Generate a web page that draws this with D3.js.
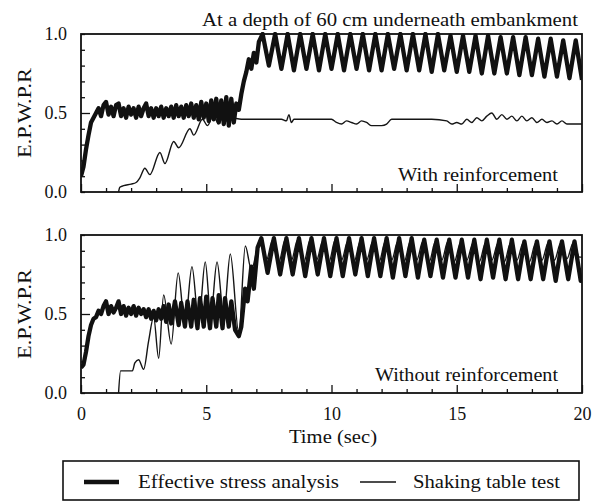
<!DOCTYPE html>
<html>
<head>
<meta charset="utf-8">
<script src="https://cdn.jsdelivr.net/npm/d3@7"></script>
<style>
  body { margin: 0; background: #fff; }
  svg text { font-family: "Liberation Serif", "DejaVu Serif", serif; fill: #111; }
</style>
</head>
<body>
<svg id="chart" width="600" height="504"></svg>
<script>
// Excess pore water pressure ratio: [time (s), ratio]

// with reinforcement - effective stress analysis
const withAnalysis = [
  [0,0.10],[0.1,0.16],[0.2,0.27],[0.3,0.36],[0.4,0.44],[0.5,0.47],
  [0.6,0.50],[0.7,0.53],[0.8,0.48],[0.9,0.55],[1.0,0.57],[1.1,0.49],[1.2,0.54],[1.3,0.48],
  [1.4,0.55],[1.5,0.56],[1.6,0.48],[1.7,0.53],[1.8,0.47],[1.9,0.54],[2.0,0.49],[2.1,0.53],
  [2.2,0.47],[2.3,0.54],[2.4,0.48],[2.5,0.53],[2.6,0.56],[2.7,0.48],[2.8,0.53],[2.9,0.47],
  [3.0,0.53],[3.1,0.48],[3.2,0.54],[3.3,0.47],[3.4,0.53],[3.5,0.48],[3.6,0.54],[3.7,0.47],
  [3.8,0.55],[3.9,0.48],[4.0,0.54],[4.1,0.47],[4.2,0.55],[4.3,0.48],[4.4,0.56],[4.5,0.47],
  [4.6,0.55],[4.7,0.46],[4.8,0.57],[4.9,0.47],[5.0,0.56],[5.1,0.45],[5.2,0.58],[5.3,0.46],
  [5.4,0.59],[5.5,0.44],[5.6,0.58],[5.7,0.43],[5.8,0.60],[5.9,0.42],[6.0,0.59],[6.1,0.44],
  [6.2,0.56],[6.3,0.52],[6.4,0.62],[6.5,0.70],[6.6,0.76],[6.7,0.84],[6.8,0.78],[6.9,0.88],
  [7.0,0.82],[7.1,0.95],[7.25,1.0],[7.5,0.80],[7.75,1.0],[8.0,0.78],[8.25,1.0],[8.5,0.77],
  [8.75,1.0],[9.0,0.78],[9.25,1.0],[9.5,0.77],[9.75,1.0],[10.0,0.78],[10.25,1.0],[10.5,0.77],
  [10.75,1.0],[11.0,0.78],[11.25,1.0],[11.5,0.77],[11.75,1.0],[12.0,0.77],[12.25,1.0],
  [12.5,0.78],[12.75,1.0],[13.0,0.77],[13.25,1.0],[13.5,0.77],[13.75,1.0],[14.0,0.76],
  [14.25,1.0],[14.5,0.77],[14.75,0.99],[15.0,0.76],[15.25,0.99],[15.5,0.76],[15.75,0.99],
  [16.0,0.75],[16.25,0.99],[16.5,0.75],[16.75,0.98],[17.0,0.75],[17.25,0.98],[17.5,0.74],
  [17.75,0.98],[18.0,0.74],[18.25,0.97],[18.5,0.73],[18.75,0.97],[19.0,0.73],[19.25,0.96],
  [19.5,0.72],[19.75,0.96],[20.0,0.71]
];

// with reinforcement - shaking table test
const withTest = [
  [1.5,0],[1.55,0.03],[1.7,0.04],[2.0,0.05],[2.2,0.06],[2.35,0.09],[2.55,0.15],[2.75,0.11],
  [3.15,0.25],[3.35,0.18],[3.7,0.32],[3.9,0.28],[4.35,0.40],[4.5,0.36],[4.85,0.46],
  [5.05,0.42],[5.3,0.49],[5.45,0.44],[5.6,0.47],[5.8,0.45],[6.0,0.47],[6.4,0.46],[7.0,0.46],
  [8.0,0.46],[8.2,0.45],[8.3,0.49],[8.4,0.44],[8.5,0.46],[10.0,0.46],[10.2,0.44],[10.4,0.43],
  [10.6,0.45],[10.8,0.44],[11.0,0.43],[11.2,0.45],[11.4,0.44],[11.6,0.42],[11.8,0.42],
  [12.0,0.42],[12.2,0.43],[12.4,0.46],[13.0,0.46],[14.0,0.46],[14.6,0.45],[14.8,0.43],
  [15.0,0.44],[15.2,0.43],[15.4,0.46],[15.6,0.44],[15.8,0.47],[16.0,0.45],[16.2,0.48],
  [16.4,0.50],[16.6,0.46],[16.8,0.49],[17.0,0.46],[17.2,0.48],[17.4,0.45],[17.6,0.48],
  [17.8,0.45],[18.0,0.47],[18.2,0.44],[18.4,0.46],[18.6,0.44],[18.8,0.45],[19.0,0.43],
  [19.2,0.45],[19.4,0.43],[19.6,0.43],[20.0,0.43]
];

// without reinforcement - effective stress analysis
const withoutAnalysis = [
  [0,0.16],[0.1,0.18],[0.2,0.26],[0.3,0.36],[0.4,0.43],[0.5,0.47],[0.6,0.48],[0.7,0.52],
  [0.8,0.50],[0.9,0.55],[1.0,0.58],[1.1,0.50],[1.2,0.55],[1.3,0.51],[1.4,0.54],[1.5,0.58],
  [1.6,0.50],[1.7,0.55],[1.8,0.49],[1.9,0.54],[2.0,0.50],[2.1,0.55],[2.2,0.49],[2.3,0.54],
  [2.4,0.50],[2.5,0.53],[2.6,0.48],[2.7,0.53],[2.8,0.47],[2.9,0.52],[3.0,0.46],[3.1,0.53],
  [3.2,0.47],[3.3,0.55],[3.4,0.45],[3.5,0.56],[3.6,0.44],[3.75,0.58],[3.9,0.43],[4.0,0.57],
  [4.15,0.42],[4.25,0.58],[4.4,0.42],[4.5,0.59],[4.65,0.41],[4.75,0.60],[4.9,0.42],
  [5.0,0.61],[5.15,0.41],[5.25,0.60],[5.4,0.42],[5.5,0.62],[5.65,0.41],[5.75,0.60],
  [5.9,0.42],[6.0,0.58],[6.15,0.40],[6.3,0.36],[6.4,0.42],[6.55,0.66],[6.65,0.58],
  [6.8,0.80],[6.9,0.66],[7.05,0.92],[7.2,0.98],[7.45,0.76],[7.7,0.98],[7.95,0.75],
  [8.2,0.98],[8.45,0.75],[8.7,0.98],[8.95,0.74],[9.2,0.98],[9.45,0.75],[9.7,0.98],
  [9.95,0.74],[10.2,0.98],[10.45,0.74],[10.7,0.98],[10.95,0.75],[11.2,0.98],[11.45,0.74],
  [11.7,0.98],[11.95,0.74],[12.2,0.98],[12.45,0.73],[12.7,0.98],[12.95,0.74],[13.2,0.98],
  [13.45,0.73],[13.7,0.97],[13.95,0.74],[14.2,0.97],[14.45,0.73],[14.7,0.97],[14.95,0.73],
  [15.2,0.97],[15.45,0.73],[15.7,0.97],[15.95,0.72],[16.2,0.97],[16.45,0.73],[16.7,0.97],
  [16.95,0.72],[17.2,0.97],[17.45,0.72],[17.7,0.96],[17.95,0.72],[18.2,0.96],[18.45,0.72],
  [18.7,0.96],[18.95,0.71],[19.2,0.96],[19.45,0.72],[19.7,0.96],[19.95,0.71],[20.0,0.74]
];

// without reinforcement - shaking table test
const withoutTest = [
  [1.5,0],[1.58,0.14],[2.05,0.14],[2.15,0.19],[2.3,0.21],[2.5,0.15],[2.7,0.33],[2.9,0.48],
  [3.1,0.22],[3.3,0.62],[3.6,0.31],[3.88,0.76],[4.15,0.43],[4.43,0.80],[4.7,0.45],
  [4.96,0.83],[5.18,0.49],[5.43,0.83],[5.7,0.49],[5.96,0.88],[6.3,0.38],[6.56,0.93],
  [6.8,0.78],[7.15,0.97],[7.4,0.84],[7.65,0.97],[7.9,0.83],[8.15,0.97],[8.4,0.84],
  [8.65,0.97],[8.9,0.83],[9.15,0.97],[9.4,0.84],[9.65,0.96],[9.9,0.83],[10.15,0.97],
  [10.4,0.84],[10.65,0.96],[10.9,0.83],[11.15,0.96],[11.4,0.84],[11.65,0.96],[11.9,0.83],
  [12.15,0.96],[12.4,0.84],[12.65,0.96],[12.9,0.83],[13.15,0.96],[13.4,0.84],[13.65,0.96],
  [13.9,0.83],[14.15,0.96],[14.4,0.84],[14.65,0.96],[14.9,0.83],[15.15,0.95],[15.4,0.84],
  [15.65,0.95],[15.9,0.83],[16.15,0.95],[16.4,0.84],[16.65,0.95],[16.9,0.83],[17.15,0.95],
  [17.4,0.84],[17.65,0.95],[17.9,0.83],[18.15,0.95],[18.4,0.84],[18.65,0.95],[18.9,0.84],
  [19.15,0.95],[19.4,0.85],[19.65,0.95],[19.9,0.86],[20.0,0.86]
];

const xTickLabels = [0, 5, 10, 15, 20];
const yTickLabels = [0, 0.5, 1.0];

const serif = '"Liberation Serif", "DejaVu Serif", serif';

const svg = d3.select('#chart');

const x = d3.scaleLinear().domain([0, 20]).range([81, 582]);

const panels = [
  {top: 34, bottom: 192, analysis: withAnalysis, test: withTest,
   note: 'With reinforcement', noteX: 558, noteY: 181, noteLen: 160, showX: false},
  {top: 235, bottom: 393, analysis: withoutAnalysis, test: withoutTest,
   note: 'Without reinforcement', noteX: 558, noteY: 381, noteLen: 183, showX: true}
];

panels.forEach((p, i) => {
  const y = d3.scaleLinear().domain([0, 1]).range([p.bottom, p.top]);

  const clipId = 'clip' + i;
  svg.append('clipPath').attr('id', clipId)
    .append('rect')
    .attr('x', x(0)).attr('y', y(1) - 2)
    .attr('width', x(20) - x(0)).attr('height', y(0) - y(1) + 2);

  const thickLine = d3.line()
    .x(d => x(d[0]))
    .y(d => y(d[1]));

  const thinLine = d3.line()
    .curve(d3.curveMonotoneX)
    .x(d => x(d[0]))
    .y(d => y(d[1]));

  const g = svg.append('g').attr('clip-path', `url(#${clipId})`);

  g.append('path')
    .datum(p.test)
    .attr('d', thinLine)
    .attr('fill', 'none')
    .attr('stroke', '#151515')
    .attr('stroke-width', 1.4)
    .attr('stroke-linejoin', 'round');

  g.append('path')
    .datum(p.analysis)
    .attr('d', thickLine)
    .attr('fill', 'none')
    .attr('stroke', '#111')
    .attr('stroke-width', 4.3)
    .attr('stroke-linejoin', 'round');

  // x axis, ticks pointing inward
  const xAxis = svg.append('g')
    .attr('transform', `translate(0,${p.bottom})`)
    .call(d3.axisBottom(x)
      .tickValues(d3.range(0, 21, 1))
      .tickSize(-4)
      .tickPadding(14)
      .tickFormat(d => (p.showX && xTickLabels.includes(d)) ? d : ''))
    .attr('font-family', serif)
    .attr('font-size', 18);
  xAxis.select('.domain').remove();
  xAxis.selectAll('.tick line')
    .attr('stroke', '#111').attr('stroke-width', 1.3)
    .filter(d => d % 5 === 0).attr('y2', -8);

  // y axis, ticks pointing inward
  const yAxis = svg.append('g')
    .attr('transform', `translate(${x(0)},0)`)
    .call(d3.axisLeft(y)
      .tickValues(d3.range(0, 11).map(k => k / 10))
      .tickSize(-4)
      .tickPadding(14)
      .tickFormat(d => yTickLabels.some(v => Math.abs(v - d) < 1e-6) ? d3.format('.1f')(d) : ''))
    .attr('font-family', serif)
    .attr('font-size', 18);
  yAxis.select('.domain').remove();
  yAxis.selectAll('.tick line')
    .attr('stroke', '#111').attr('stroke-width', 1.3)
    .filter(d => Math.abs(d - 0.5) < 1e-6).attr('x2', 9);

  // frame
  svg.append('rect')
    .attr('x', x(0)).attr('y', y(1))
    .attr('width', x(20) - x(0)).attr('height', y(0) - y(1))
    .attr('fill', 'none')
    .attr('stroke', '#111')
    .attr('stroke-width', 1.8);

  // y label
  svg.append('text')
    .attr('transform', `translate(31,${(p.top + p.bottom) / 2}) rotate(-90)`)
    .attr('text-anchor', 'middle')
    .attr('font-size', 19)
    .attr('textLength', 90)
    .attr('lengthAdjust', 'spacingAndGlyphs')
    .text('E.P.W.P.R');

  // panel note
  svg.append('text')
    .attr('x', p.noteX).attr('y', p.noteY)
    .attr('text-anchor', 'end')
    .attr('font-size', 18)
    .attr('textLength', p.noteLen)
    .attr('lengthAdjust', 'spacingAndGlyphs')
    .text(p.note);
});

// title
svg.append('text')
  .attr('x', 578).attr('y', 26)
  .attr('text-anchor', 'end')
  .attr('font-size', 18)
  .attr('textLength', 376)
  .attr('lengthAdjust', 'spacingAndGlyphs')
  .text('At a depth of 60 cm underneath embankment');

// x axis title
svg.append('text')
  .attr('x', 333).attr('y', 443)
  .attr('text-anchor', 'middle')
  .attr('font-size', 18)
  .attr('textLength', 88)
  .attr('lengthAdjust', 'spacingAndGlyphs')
  .text('Time (sec)');

// legend
const legend = svg.append('g');
legend.append('rect')
  .attr('x', 63).attr('y', 461)
  .attr('width', 516).attr('height', 39)
  .attr('fill', 'none')
  .attr('stroke', '#111')
  .attr('stroke-width', 1.6);

const legendItems = [
  {label: 'Effective stress analysis', x0: 84, x1: 119, width: 4.3, tx: 138, len: 201},
  {label: 'Shaking table test', x0: 360, x1: 396, width: 1.6, tx: 413, len: 147}
];
legendItems.forEach(item => {
  legend.append('line')
    .attr('x1', item.x0).attr('x2', item.x1)
    .attr('y1', 482).attr('y2', 482)
    .attr('stroke', '#111')
    .attr('stroke-width', item.width);
  legend.append('text')
    .attr('x', item.tx).attr('y', 488)
    .attr('font-size', 18)
    .attr('textLength', item.len)
    .attr('lengthAdjust', 'spacingAndGlyphs')
    .text(item.label);
});
</script>
</body>
</html>
